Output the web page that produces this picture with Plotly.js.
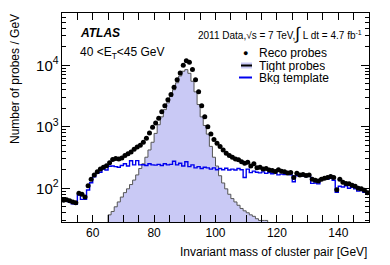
<!DOCTYPE html>
<html>
<head>
<meta charset="utf-8">
<script src="https://cdn.plot.ly/plotly-3.0.1.min.js"></script>
<style>html,body{margin:0;padding:0;background:#fff;}#chart{width:390px;height:265px;}</style>
</head>
<body>
<div id="chart"></div>
<script>
// Bin lower edges: 50..149 GeV, 1 GeV bins
const binLow = [50,51,52,53,54,55,56,57,58,59,60,61,62,63,64,65,66,67,68,69,70,71,72,73,74,75,76,77,78,79,80,81,82,83,84,85,86,87,88,89,90,91,92,93,94,95,96,97,98,99,100,101,102,103,104,105,106,107,108,109,110,111,112,113,114,115,116,117,118,119,120,121,122,123,124,125,126,127,128,129,130,131,132,133,134,135,136,137,138,139,140,141,142,143,144,145,146,147,148,149];
const binWidth = 1;

const recoProbes = [64,65,63,60,58,83,80,72,110,140,165,185,205,220,232,260,295,305,300,310,340,365,390,430,470,500,560,650,790,980,1150,1380,1750,2200,2750,3350,4400,5800,7500,10000,11800,11200,8500,5800,3700,2200,1450,1000,760,620,540,480,420,370,340,320,300,290,270,255,265,230,250,215,220,205,210,198,195,188,200,190,185,178,180,150,175,165,168,162,165,140,135,132,140,145,150,155,150,95,140,125,120,118,112,108,100,98,93,85];

const tightProbes = [4,4,5,5,6,7,8,9,10,11,12,14,16,19,24,37,42,50,60,72,85,98,115,136,165,210,250,320,420,560,780,1080,1450,1900,2450,3100,4000,5200,6700,8000,8500,7400,5500,3700,2300,1450,1050,760,480,320,230,160,122,98,80,68,60,53,47,43,40,37,35,32,30,30,30,25,22,20,18,17,16,15,14,13,12,11,10,10,9,9,8,8,7,7,7,6,6,6,5,5,5,5,4,4,4,4,4,4];

const bkgTemplate = [62,63,60,56,55,78,66,66,94,123,154,175,182,206,198,228,230,225,220,235,250,230,280,240,282,240,242,235,250,240,238,245,235,250,240,245,275,240,255,230,270,225,240,215,225,210,220,215,205,215,200,210,200,212,198,205,198,210,200,150,205,180,190,182,178,185,175,180,172,178,165,170,168,172,165,128,160,158,160,155,158,120,122,118,140,145,142,148,135,86,108,105,110,100,104,98,90,92,86,82];

const xTickVals = [60,80,100,120,140];
const yDecades = [10,100,1000,10000];
const yMinorDigits = [2,3,4,5,6,7,8,9];

// step outline helpers (edges + repeated last value)
function stepX(){ const e = binLow.slice(); e.push(binLow[binLow.length-1]+binWidth); return e; }
function stepY(v){ const a = v.slice(); a.push(v[v.length-1]); return a; }
const centers = binLow.map(b => b + binWidth/2);

const yMinor = [];
yDecades.forEach(d => yMinorDigits.forEach(k => yMinor.push(k*d)));

const edges = stepX();
const lowVal = 1;
const tightX = [edges[0]].concat(edges, [edges[edges.length-1]]);
const tightY = [lowVal].concat(stepY(tightProbes), [lowVal]);

const traces = [
  {
    type:'scatter', mode:'lines', name:'Tight probes',
    x: tightX, y: tightY,
    line:{shape:'hv', color:'#555555', width:1},
    fill:'toself', fillcolor:'#c9c9f5',
    showlegend:false, hoverinfo:'skip'
  },
  {
    type:'scatter', mode:'lines', name:'Bkg template',
    x: edges, y: stepY(bkgTemplate),
    line:{shape:'hv', color:'#0000ee', width:1.4},
    showlegend:false
  },
  {
    type:'scatter', mode:'markers', name:'Reco probes',
    x: centers, y: recoProbes,
    marker:{color:'#000', size:5},
    showlegend:false
  },
  // invisible carrier so the minor-tick overlay axis is drawn
  {
    type:'scatter', mode:'markers', x: centers, y: recoProbes, yaxis:'y2',
    marker:{opacity:0, size:1}, showlegend:false, hoverinfo:'skip'
  }
];

const P = (px)=> (px-62)/307;      // paper x from pixel
const Q = (py)=> (222-py)/209;     // paper y from pixel
const FONT = 'Liberation Sans, Arial, sans-serif';
const yRange = [1.452, 4.85];

const layout = {
  width:390, height:265,
  margin:{l:62, r:21, t:13, b:43},
  paper_bgcolor:'#fff', plot_bgcolor:'#fff',
  font:{family:FONT, size:11, color:'#000'},
  showlegend:false,
  xaxis:{
    range:[50,150], tickvals:xTickVals, ticktext:xTickVals.map(String),
    ticks:'inside', ticklen:7, tickcolor:'#000', tickwidth:1,
    showline:true, linecolor:'#000', linewidth:1, mirror:'allticks',
    showgrid:false, zeroline:false,
    minor:{dtick:5, ticks:'inside', ticklen:4, tickcolor:'#000', showgrid:false},
    tickfont:{size:12}
  },
  yaxis:{
    type:'log', range:yRange,
    tickmode:'linear', tick0:0, dtick:1, exponentformat:'power',
    ticks:'inside', ticklen:8, tickcolor:'#000', tickwidth:1,
    showline:true, linecolor:'#000', linewidth:1, mirror:'allticks',
    showgrid:false, zeroline:false,
    tickfont:{size:12}
  },
  yaxis2:{
    type:'log', range:yRange, overlaying:'y', side:'left',
    tickmode:'array', tickvals:yMinor, showticklabels:false,
    ticks:'inside', ticklen:4, tickcolor:'#000', tickwidth:1,
    showline:true, linecolor:'#000', linewidth:1, mirror:'allticks',
    showgrid:false, zeroline:false
  },
  shapes:[
    {type:'rect', xref:'paper', yref:'paper', x0:P(241), x1:P(252), y0:Q(68.5), y1:Q(62.5), fillcolor:'#c9c9f5', line:{width:0}},
    {type:'line', xref:'paper', yref:'paper', x0:P(241), x1:P(252), y0:Q(65.5), y1:Q(65.5), line:{color:'#000', width:2}},
    {type:'line', xref:'paper', yref:'paper', x0:P(239), x1:P(252), y0:Q(77.5), y1:Q(77.5), line:{color:'#0000ee', width:2}}
  ],
  annotations:[
    {xref:'paper', yref:'paper', x:P(245), y:Q(53.5), text:'●', showarrow:false, xanchor:'center', yanchor:'middle', font:{size:9}},
    {xref:'paper', yref:'paper', x:P(257), y:Q(53.5), text:'Reco probes', showarrow:false, xanchor:'left', yanchor:'middle', height:12, font:{size:12}},
    {xref:'paper', yref:'paper', x:P(257), y:Q(65.5), text:'Tight probes', showarrow:false, xanchor:'left', yanchor:'middle', height:12, font:{size:12}},
    {xref:'paper', yref:'paper', x:P(257), y:Q(78), text:'Bkg template', showarrow:false, xanchor:'left', yanchor:'middle', height:12, font:{size:12}},
    {xref:'paper', yref:'paper', x:P(78), y:Q(33), text:'<b><i>ATLAS</i></b>', showarrow:false, xanchor:'left', yanchor:'middle', font:{size:12}},
    {xref:'paper', yref:'paper', x:P(78), y:Q(53), text:'40 <E<sub>T</sub><45 GeV', showarrow:false, xanchor:'left', yanchor:'middle', font:{size:12}},
    {xref:'paper', yref:'paper', x:P(364), y:Q(33), text:'2011 Data,√s = 7 TeV,<span style="font-size:17px">∫</span> L dt = 4.7 fb<sup>-1</sup>', showarrow:false, xanchor:'right', yanchor:'middle', font:{size:10}},
    {xref:'paper', yref:'paper', x:P(369), y:Q(252), text:'Invariant mass of cluster pair [GeV]', showarrow:false, xanchor:'right', yanchor:'middle', font:{size:12}},
    {xref:'paper', yref:'paper', x:P(15), y:Q(12), text:'Number of probes / GeV', showarrow:false, textangle:-90, xanchor:'center', yanchor:'top', font:{size:12}}
  ]
};

Plotly.newPlot('chart', traces, layout, {staticPlot:true, displayModeBar:false});
</script>
</body>
</html>
